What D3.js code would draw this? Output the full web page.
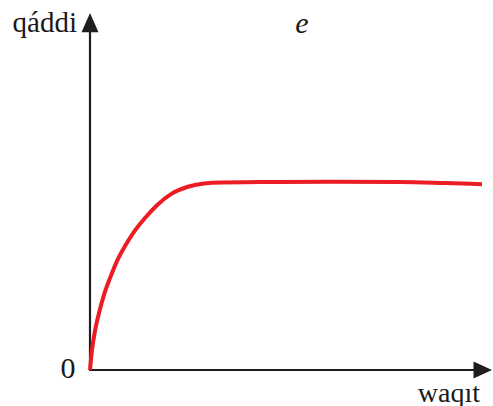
<!DOCTYPE html>
<html>
<head>
<meta charset="utf-8">
<script src="https://cdn.jsdelivr.net/npm/d3@7"></script>
<style>
  html, body { margin: 0; padding: 0; background: #fff; }
  svg { display: block; }
</style>
</head>
<body>
<svg id="chart" width="493" height="406"></svg>
<script>
// Growth over time: rises quickly, then levels off
const times  = [0, 0.5, 1.25, 2.25, 3.5, 5, 6.75, 8.75, 11, 13.75, 16.75, 20.25, 24.25, 28.5, 33, 42.5, 60, 77.5, 88.75, 98];
const values = [0, 5.6, 11.0, 16.0, 21.1, 25.8, 30.6, 34.8, 38.8, 42.7, 46.3, 49.4, 51.4, 52.4, 52.7, 52.8, 52.9, 52.8, 52.5, 52.2];

const yLabel = "qáddi";
const xLabel = "waqıt";
const originLabel = "0";
const panelLabel = "e";

const svg = d3.select("#chart");

const x = d3.scaleLinear().domain([0, 100]).range([90, 490]);
const y = d3.scaleLinear().domain([0, 100]).range([370, 14]);

const axisColor = "#1e1e1e";

// axes lines
svg.append("line")
  .attr("x1", x(0)).attr("y1", y(0))
  .attr("x2", x(0)).attr("y2", y(95))
  .attr("stroke", axisColor).attr("stroke-width", 2.2);
svg.append("line")
  .attr("x1", x(0) - 1).attr("y1", y(0))
  .attr("x2", x(96)).attr("y2", y(0))
  .attr("stroke", axisColor).attr("stroke-width", 2.2);

// arrowheads
const ax = x(0), ay = y(0);
svg.append("path")
  .attr("d", `M${ax},${y(100) - 1} L${ax + 8.5},${y(95) + 0.5} L${ax - 8.5},${y(95) + 0.5} Z`)
  .attr("fill", axisColor);
svg.append("path")
  .attr("d", `M${x(100) + 2},${ay} L${x(96) - 0.5},${ay - 8.5} L${x(96) - 0.5},${ay + 8.5} Z`)
  .attr("fill", axisColor);

// curve
const line = d3.line()
  .x((d, i) => x(times[i]))
  .y((d, i) => y(values[i]))
  .curve(d3.curveMonotoneX);

svg.append("path")
  .datum(values)
  .attr("d", line)
  .attr("fill", "none")
  .attr("stroke", "#ec1c24")
  .attr("stroke-width", 4)
  .attr("stroke-linecap", "butt");

// --- serif face selection ---
// Some serif faces get swapped for another font at larger pixel sizes;
// a face is kept only if its width grows in proportion to the size.
const probe = "qáddi waqıt 0e";
function widthOf(family, size, italic) {
  const t = svg.append("text")
    .style("font-family", family)
    .attr("font-size", size)
    .style("font-style", italic ? "italic" : "normal")
    .text(probe);
  const w = t.node().getComputedTextLength();
  t.remove();
  return w;
}
function consistent(family, size, italic) {
  const w20 = widthOf(family, 20, italic);
  const ws = widthOf(family, size, italic);
  return Math.abs(ws / (w20 * size / 20) - 1) < 0.02;
}
function pickFace(size, italic) {
  const candidates = ["Liberation Serif", "Times New Roman", "Tinos", "serif", "Noto Serif"];
  for (const f of candidates) {
    if (consistent(f, size, italic)) return { family: f, size: size };
  }
  for (let s = Math.floor(size) - 1; s > 20; s--) {
    if (consistent("Liberation Serif", s, italic)) return { family: "Liberation Serif", size: s };
  }
  return { family: "DejaVu Serif", size: size * 0.9 };
}

function label(txt, px, py, size, anchor, italic) {
  const face = pickFace(size, italic);
  svg.append("text")
    .attr("x", px).attr("y", py)
    .attr("text-anchor", anchor)
    .style("font-family", face.family)
    .attr("font-size", face.size)
    .style("font-style", italic ? "italic" : "normal")
    .attr("fill", "#1a1a1a")
    .text(txt);
}
label(yLabel, 77, 32, 29, "end", false);
label(originLabel, 68, 378, 30, "middle", false);
label(xLabel, 480, 402, 28, "end", false);
label(panelLabel, 302, 33, 30, "middle", true);
</script>
</body>
</html>
